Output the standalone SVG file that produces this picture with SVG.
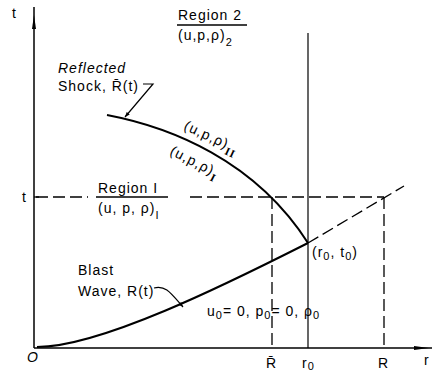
<svg xmlns="http://www.w3.org/2000/svg" width="433" height="372" viewBox="0 0 433 372">
<style>
text{font-family:"Liberation Sans",Arial,sans-serif;font-size:14px;fill:#000;letter-spacing:1px}
.it{font-style:italic}
.sub{font-size:11px}
.ln{stroke:#000;fill:none}
.dash{stroke:#000;fill:none;stroke-width:1.3;stroke-dasharray:12 5}
</style>
<defs>
<marker id="ah" viewBox="0 0 10 10" refX="10" refY="5" markerWidth="7" markerHeight="5" orient="auto" markerUnits="userSpaceOnUse">
<path d="M0,1 L10,5 L0,9 Z" fill="#000"/>
</marker>
</defs>
<rect width="433" height="372" fill="#fff"/>
<g id="axes">
<line class="ln" x1="34" y1="7" x2="34" y2="348" stroke-width="1.5"/>
<polygon points="34,15 32,29 36,29" fill="#000"/>
<line class="ln" x1="34" y1="348" x2="432" y2="348" stroke-width="1.5"/>
<polygon points="429,348 414,346 414,350" fill="#000"/>
<line class="ln" x1="34" y1="197" x2="39" y2="197" stroke-width="1.3"/>
</g>
<g id="connectors">
<path class="ln" d="M107,115 C170,127 255,160 308,243" stroke-width="2"/>
<path class="ln" d="M37,347 C100,347 225,285 308,243" stroke-width="2"/>
<line class="dash" x1="308" y1="243" x2="404" y2="186"/>
<line class="dash" x1="36" y1="197" x2="88" y2="197"/>
<line class="ln" x1="96" y1="197" x2="168" y2="197" stroke-width="1.3"/>
<line class="dash" x1="190" y1="197" x2="384" y2="197"/>
<line class="ln" x1="308" y1="33" x2="308" y2="348" stroke-width="1.2"/>
<line class="dash" x1="272" y1="197" x2="272" y2="348" stroke-dasharray="18 4"/>
<line class="dash" x1="384" y1="197" x2="384" y2="348" stroke-dasharray="18 4"/>
<line class="ln" x1="177" y1="25" x2="247" y2="25" stroke-width="1.3"/>
<polyline class="ln" points="143,84 153,84 125,117" stroke-width="1.2" marker-end="url(#ah)"/>
<path class="ln" d="M154,288 C165,285 170,292 183,307" stroke-width="1.2" marker-end="url(#ah)"/>
</g>
<g id="labels">
<text x="12" y="18">t</text>
<text x="22" y="202">t</text>
<text x="27" y="362" class="it">O</text>
<text x="178" y="20">Region 2</text>
<text x="178" y="40">(u,p,ρ)<tspan class="sub" dy="6">2</tspan></text>
<text x="58" y="73" class="it">Reflected</text>
<text x="58" y="91">Shock, R̄(t)</text>
<text x="98" y="193">Region  I</text>
<text x="98" y="213">(u, p, ρ)<tspan class="sub" dy="6">I</tspan></text>
<text transform="translate(183,129) rotate(25)">(u,p,ρ)<tspan class="sub" dy="5" style="font-family:'Liberation Serif',serif;font-weight:bold">II</tspan></text>
<text transform="translate(169,154) rotate(27)">(u,p,ρ)<tspan class="sub" dy="5" style="font-family:'Liberation Serif',serif;font-weight:bold">I</tspan></text>
<text x="312" y="257">(r<tspan class="sub" dy="3">0</tspan><tspan dy="-3">, t</tspan><tspan class="sub" dy="3">0</tspan><tspan dy="-3">)</tspan></text>
<text x="78" y="275">Blast</text>
<text x="78" y="296">Wave, R(t)</text>
<text x="207" y="316">u<tspan class="sub" dy="3">0</tspan><tspan dy="-3">= 0, p</tspan><tspan class="sub" dy="3">0</tspan><tspan dy="-3">= 0, ρ</tspan><tspan class="sub" dy="3">0</tspan></text>
<text x="266" y="368">R̄</text>
<text x="302" y="368">r<tspan class="sub" dy="2">0</tspan></text>
<text x="378" y="368">R</text>
<text x="424" y="365">r</text>
</g>
</svg>
